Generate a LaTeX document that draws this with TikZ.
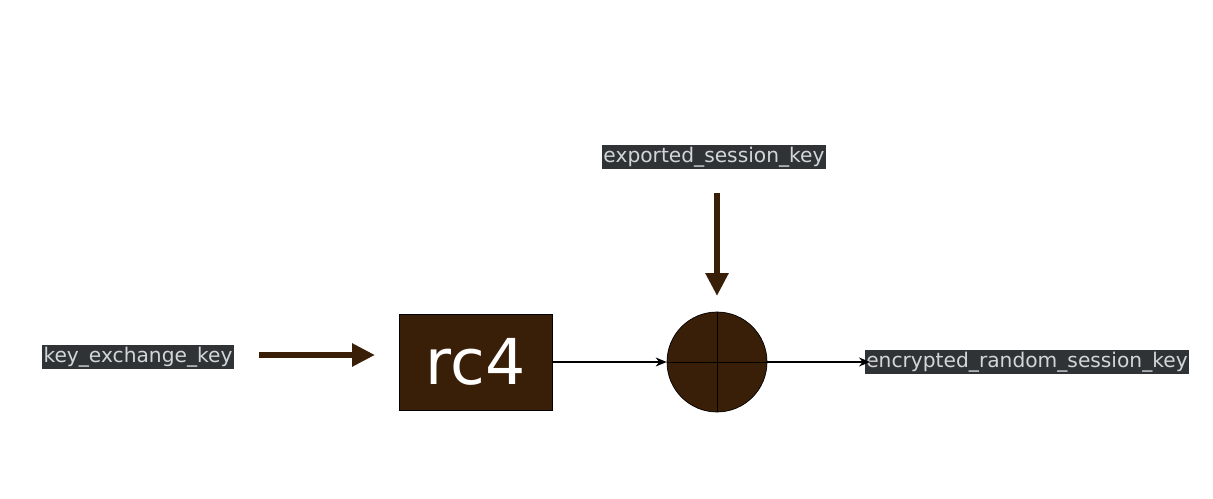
\documentclass[tikz,border=0pt]{standalone}
\usepackage{fontspec}
\setmainfont{DejaVu Sans}
\usetikzlibrary{positioning,arrows.meta}
\definecolor{brn}{HTML}{3A1F08}
\definecolor{tagbg}{HTML}{2F3336}
\definecolor{tagfg}{HTML}{D2D6DA}
\tikzset{
  tag/.style={fill=tagbg,text=tagfg,inner sep=1pt,minimum height=0.48cm,font=\fontsize{11.5}{12}\selectfont},
  fat/.style={draw=brn,line width=0.12cm,-{Triangle[length=0.46cm,width=0.44cm]}},
  thin/.style={draw=black,line width=0.6pt,-{Stealth[length=0.22cm,width=0.18cm]}}
}
\begin{document}
\begin{tikzpicture}[x=0.02cm,y=-0.02cm]
\useasboundingbox (0,0) rectangle (1213,499);
\node[tag] (kek) at (138,357) {key\_exchange\_key};
\node[draw=black,fill=brn,text=white,minimum width=3.06cm,minimum height=1.92cm,font=\fontsize{36}{40}\selectfont] (rc4) at (475.5,362) {rc4};
\node[circle,draw=black,fill=brn,minimum size=2.0cm,inner sep=0] (xor) at (717,362) {};
\draw (xor.north) -- (xor.south) (xor.west) -- (xor.east);
\node[tag] (esk) at (714,157) {exported\_session\_key};
\node[tag] (ersk) at (1027,362) {encrypted\_random\_session\_key};
\coordinate (kekend) at (375,355);
\coordinate (eskend) at (717,296);
\draw[fat] (259,355) -- (kekend);
\draw[fat] (717,193) -- (eskend);
\draw[thin] (rc4) -- (xor);
\draw[thin] (xor) -- (ersk.west -| 870,0);
\end{tikzpicture}
\end{document}
